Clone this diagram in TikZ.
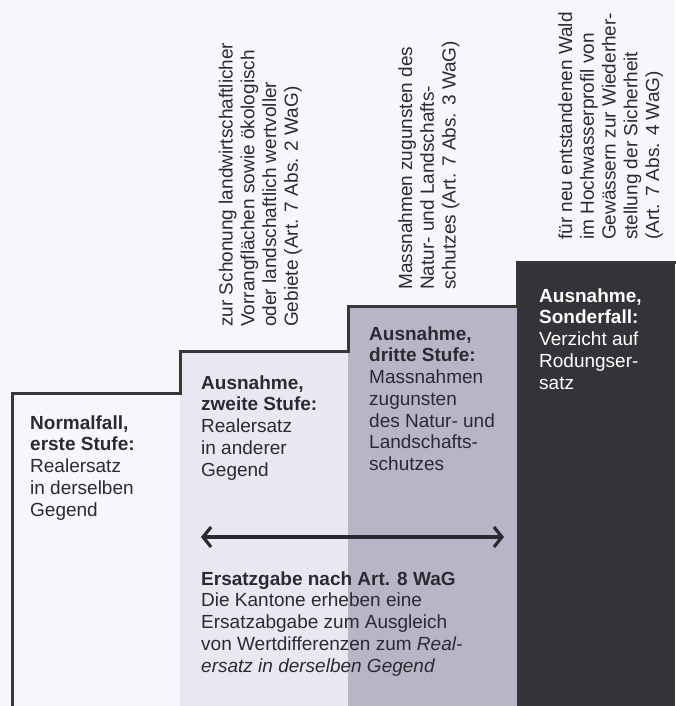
\documentclass[tikz,border=0pt]{standalone}
\usepackage{fontspec}
\setmainfont{Liberation Sans}
\usetikzlibrary{arrows.meta}
\definecolor{bgcol}{HTML}{F7F7FB}
\definecolor{stepB}{HTML}{E8E8F2}
\definecolor{stepC}{HTML}{B6B6C6}
\definecolor{stepD}{HTML}{343338}
\definecolor{outl}{HTML}{3A3536}
\definecolor{txt}{HTML}{2B2A33}
\tikzset{
  lbl/.style={anchor=north west, inner sep=0pt, align=left, text=txt,
    font=\fontsize{19}{21.7}\selectfont},
  rlbl/.style={lbl, rotate=90},
  outline/.style={draw=outl, line width=3pt, line join=miter},
  arr/.style={draw=txt, line width=3.2pt,
    {Straight Barb[length=8pt,width=20pt]}-{Straight Barb[length=8pt,width=20pt]}}
}
\newcommand{\fl}{\rule{0pt}{14pt}}
\begin{document}
\begin{tikzpicture}[x=1pt,y=-1pt]
\useasboundingbox (0,0) rectangle (675,706);
\fill[bgcol] (0,0) rectangle (675,706);
% steps
\fill[stepB] (180,351) rectangle (348,706);
\fill[stepC] (348,306) rectangle (517,706);
\fill[stepD] (517,262) rectangle (675,706);
\draw[outline] (12,708) -- (12,393) -- (180,393) -- (180,351) -- (348,351) -- (348,306) -- (517,306) -- (517,262) -- (677,262);
% step texts
\node[lbl] (s1) at (30,415) {\fl\textbf{Normalfall,}\\\textbf{erste Stufe:}\\Realersatz\\in derselben\\Gegend};
\node[lbl] (s2) at (201,375) {\fl\textbf{Ausnahme,}\\\textbf{zweite Stufe:}\\Realersatz\\in anderer\\Gegend};
\node[lbl] (s3) at (369,326) {\fl\textbf{Ausnahme,}\\\textbf{dritte Stufe:}\\Massnahmen\\zugunsten\\des Natur- und\\Landschafts-\\schutzes};
\node[lbl, text=white] (s4) at (539,288) {\fl\textbf{Ausnahme,}\\\textbf{Sonderfall:}\\Verzicht auf\\Rodungser-\\satz};
% rotated texts
\node[rlbl] (r2) at (218.5,327) {\fl zur Schonung landwirtschaftlicher\\Vorrangflächen sowie ökologisch\\oder landschaftlich wertvoller\\Gebiete (Art. 7 Abs. 2 WaG)};
\node[rlbl] (r3) at (398,290) {\fl Massnahmen zugunsten des\\Natur- und Landschafts-\\schutzes (Art. 7 Abs. 3 WaG)};
\node[rlbl] (r4) at (558,240) {\fl für neu entstandenen Wald\\im Hochwasserprofil von\\Gewässern zur Wiederher-\\stellung der Sicherheit\\(Art. 7 Abs. 4 WaG)};
% arrow
\coordinate (al) at (201,537);
\coordinate (ar) at (504,537);
\draw[arr] (al) -- (ar);
% bottom text
\node[lbl] (eg) at (201,571) {\fl\textbf{Ersatzgabe nach Art. 8 WaG}\\Die Kantone erheben eine\\Ersatzabgabe zum Ausgleich\\von Wertdifferenzen zum \textit{Real-}\\\textit{ersatz in derselben Gegend}};
\end{tikzpicture}
\end{document}
